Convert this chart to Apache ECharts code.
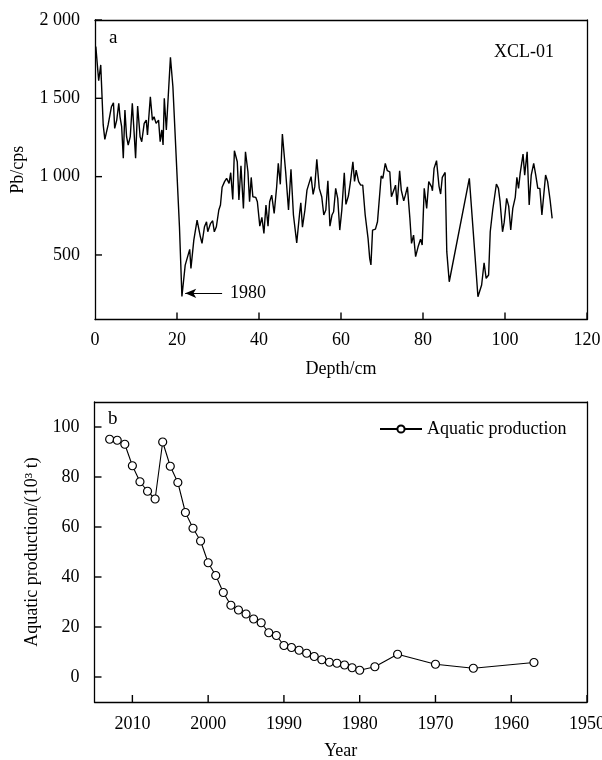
<!DOCTYPE html>
<html>
<head>
<meta charset="utf-8">
<script src="https://cdn.jsdelivr.net/npm/echarts@6/dist/echarts.min.js"></script>
<style>
  html, body { margin: 0; padding: 0; background: #fff; }
  #chart { width: 602px; height: 760px; }
</style>
</head>
<body>
<div id="chart"></div>
<script>
// panel a: Pb counts along the core
const depth = [0.2, 0.9, 1.4, 2.0, 2.4, 3.2, 4.0, 4.5, 4.8, 5.3,
  5.8, 6.1, 6.5, 6.9, 7.3, 7.7, 8.1, 8.6, 9.1, 9.5,
  9.9, 10.4, 11.0, 11.4, 12.0, 12.5, 12.8, 13.5, 14.0, 14.4,
  14.9, 15.5, 15.9, 16.3, 16.6, 16.9, 17.4, 17.8, 18.4, 19.0,
  20.6, 21.2, 22.0, 23.1, 23.4, 24.1, 24.9, 25.7, 26.1, 26.7,
  27.2, 27.5, 28.2, 28.7, 29.1, 29.6, 30.2, 30.6, 31.0, 31.6,
  32.1, 32.7, 33.1, 33.6, 34.0, 34.7, 35.1, 35.6, 36.2, 36.7,
  37.3, 37.7, 38.1, 38.5, 39.2, 39.6, 40.2, 40.7, 41.2, 41.7,
  42.2, 42.6, 43.1, 43.7, 44.3, 44.7, 45.2, 45.7, 46.5, 47.2,
  47.8, 48.4, 49.2, 49.9, 50.2, 50.6, 51.2, 51.7, 52.7, 53.2,
  53.6, 54.1, 54.7, 55.3, 55.8, 56.3, 56.8, 57.3, 57.8, 58.2,
  58.7, 59.2, 59.7, 60.2, 60.8, 61.2, 61.8, 62.3, 62.9, 63.3,
  63.7, 64.3, 64.8, 65.3, 65.9, 66.6, 67.0, 67.3, 67.7, 68.4,
  68.9, 69.3, 69.8, 70.2, 70.8, 71.3, 71.9, 72.3, 72.9, 73.3,
  73.7, 74.3, 74.7, 75.3, 75.7, 76.2, 76.8, 77.2, 77.7, 78.2,
  78.8, 79.4, 79.8, 80.3, 80.9, 81.4, 82.1, 82.3, 82.7, 83.3,
  83.9, 84.3, 84.7, 85.4, 85.8, 86.4, 91.3, 92.7, 93.4, 94.3,
  94.9, 95.4, 96.0, 96.4, 97.0, 97.9, 98.4, 98.8, 99.4, 99.8,
  100.4, 100.9, 101.4, 101.9, 102.5, 102.9, 103.3, 103.7, 104.4, 104.8,
  105.4, 105.9, 106.4, 107.0, 107.5, 108.0, 108.5, 109.0, 109.9, 110.4,
  111.0, 111.5]
const pb = [1830, 1612, 1713, 1330, 1238, 1330, 1446, 1472, 1308, 1361,
  1468, 1382, 1319, 1117, 1425, 1255, 1202, 1255, 1468, 1298,
  1117, 1451, 1255, 1223, 1340, 1361, 1266, 1510, 1361, 1382,
  1340, 1361, 1223, 1298, 1202, 1500, 1298, 1308, 1762, 1574,
  680, 235, 435, 536, 414, 595, 723, 616, 574, 680,
  712, 648, 702, 718, 648, 680, 787, 819, 932, 968,
  989, 957, 1025, 855, 1165, 1095, 851, 1070, 797, 1159,
  1031, 840, 995, 872, 868, 840, 684, 740, 638, 819,
  684, 840, 882, 765, 932, 1085, 951, 1272, 1031, 787,
  1047, 755, 577, 765, 833, 677, 787, 914, 1000, 887,
  936, 1110, 925, 872, 755, 787, 974, 684, 755, 776,
  925, 861, 659, 787, 1025, 823, 876, 966, 1095, 970,
  1042, 968, 946, 946, 755, 606, 478, 436, 659, 665,
  712, 702, 1004, 989, 1085, 1038, 1031, 872, 914, 946,
  819, 1038, 914, 846, 882, 935, 734, 574, 627, 489,
  552, 600, 563, 925, 797, 968, 935, 910, 1053, 1102,
  940, 889, 995, 1027, 521, 329, 989, 489, 233, 308,
  450, 350, 372, 648, 787, 953, 925, 840, 648, 708,
  861, 812, 659, 797, 868, 995, 925, 1021, 1144, 1010,
  1159, 819, 1010, 1085, 1010, 925, 925, 755, 1010, 968,
  851, 734]
const pbTicks = [500, 1000, 1500, 2000]
const depthTicks = [20, 40, 60, 80, 100, 120]

// panel b: aquatic production per year
const years = [2013, 2012, 2011, 2010, 2009, 2008, 2007, 2006, 2005, 2004,
  2003, 2002, 2001, 2000, 1999, 1998, 1997, 1996, 1995, 1994,
  1993, 1992, 1991, 1990, 1989, 1988, 1987, 1986, 1985, 1984,
  1983, 1982, 1981, 1980, 1978, 1975, 1970, 1965, 1957]
const production = [95.1, 94.7, 93.1, 84.5, 78.1, 74.3, 71.2, 94.0, 84.3, 77.8,
  65.8, 59.5, 54.4, 45.7, 40.6, 33.8, 28.7, 26.8, 25.2, 23.2,
  21.7, 17.7, 16.6, 12.6, 11.8, 10.7, 9.5, 8.2, 6.9, 5.9,
  5.5, 4.8, 3.7, 2.7, 4.1, 9.1, 5.1, 3.5, 5.8]
const yearTicks = [2010, 2000, 1990, 1980, 1970, 1960, 1950]
const prodTicks = [0, 20, 40, 60, 80, 100]

// axis ranges
const depthMin = 0, depthMax = 120, pbMin = 88, pbMax = 2000
const yearMin = 1950, yearMax = 2015, prodMin = -10, prodMax = 110

const font = 'Liberation Serif, Times New Roman, serif'
const black = '#000'

const chart = echarts.init(document.getElementById('chart'))

const label = { color: black, fontFamily: font, fontSize: 18 }
const nameStyle = { color: black, fontFamily: font, fontSize: 18 }
const edgeLine = { show: true, onZero: false, lineStyle: { color: black, width: 1.3 } }

// plain axis that only closes the box on the top / right side
const frame = (gridIndex, position, min, max, inverse) => ({
  gridIndex, position, type: 'value', min, max, inverse: !!inverse,
  axisLine: edgeLine, axisTick: { show: false }, axisLabel: { show: false }, splitLine: { show: false }
})

// short inward tick marks on the box edge, placed through the axes
// horizontal = true -> ticks on the left edge, pointing right
const tickSeries = (xi, yi, points, horizontal) => ({
  type: 'custom',
  xAxisIndex: xi,
  yAxisIndex: yi,
  silent: true,
  clip: false,
  z: 5,
  data: points,
  renderItem: (params, api) => {
    const p = api.coord([api.value(0), api.value(1)])
    const shape = horizontal
      ? { x1: p[0], y1: p[1], x2: p[0] + 7, y2: p[1] }
      : { x1: p[0], y1: p[1], x2: p[0], y2: p[1] - 7 }
    return { type: 'line', shape, style: { stroke: black, lineWidth: 1.4 } }
  }
})

chart.setOption({
  animation: false,
  backgroundColor: '#fff',
  title: [
    { text: 'a', left: 104, top: 24, textStyle: { fontFamily: font, fontSize: 19, fontWeight: 'normal', color: black } },
    { text: 'XCL-01', left: 489, top: 38, textStyle: { fontFamily: font, fontSize: 18, fontWeight: 'normal', color: black } },
    { text: 'b', left: 103, top: 405, textStyle: { fontFamily: font, fontSize: 19, fontWeight: 'normal', color: black } }
  ],
  legend: {
    data: ['Aquatic production'],
    left: 379,
    top: 420,
    padding: 0,
    itemWidth: 42,
    itemHeight: 9,
    itemGap: 5,
    textStyle: { fontFamily: font, fontSize: 18, color: black }
  },
  grid: [
    { left: 95, right: 15, top: 20, height: 299.5, outerBoundsMode: 'none' },
    { left: 94.5, right: 15, top: 402, height: 300, outerBoundsMode: 'none' }
  ],
  xAxis: [
    {
      gridIndex: 0,
      type: 'value',
      position: 'bottom',
      min: depthMin,
      max: depthMax,
      interval: 20,
      name: 'Depth/cm',
      nameLocation: 'middle',
      nameGap: 41,
      nameTextStyle: nameStyle,
      axisLine: edgeLine,
      axisTick: { show: false },
      axisLabel: Object.assign({ margin: 12 }, label),
      splitLine: { show: false }
    },
    {
      gridIndex: 1,
      type: 'value',
      position: 'bottom',
      inverse: true,
      min: yearMin,
      max: yearMax,
      name: 'Year',
      nameLocation: 'middle',
      nameGap: 40,
      nameTextStyle: nameStyle,
      axisLine: edgeLine,
      axisTick: { show: false },
      axisLabel: Object.assign({ margin: 13, customValues: yearTicks, formatter: v => String(v) }, label),
      splitLine: { show: false }
    },
    frame(0, 'top', depthMin, depthMax),
    frame(1, 'top', yearMin, yearMax, true)
  ],
  yAxis: [
    {
      gridIndex: 0,
      type: 'value',
      position: 'left',
      min: pbMin,
      max: pbMax,
      name: 'Pb/cps',
      nameLocation: 'middle',
      nameGap: 68,
      nameTextStyle: nameStyle,
      axisLine: edgeLine,
      axisTick: { show: false },
      axisLabel: Object.assign({
        margin: 15,
        customValues: pbTicks,
        // thousands separated by a space, as in the figure
        formatter: v => String(v).replace(/\B(?=(\d{3})+(?!\d))/g, ' ')
      }, label),
      splitLine: { show: false }
    },
    {
      gridIndex: 1,
      type: 'value',
      position: 'left',
      min: prodMin,
      max: prodMax,
      name: 'Aquatic production/(10³ t)',
      nameLocation: 'middle',
      nameGap: 50,
      nameTextStyle: nameStyle,
      axisLine: edgeLine,
      axisTick: { show: false },
      axisLabel: Object.assign({ margin: 15, customValues: prodTicks }, label),
      splitLine: { show: false }
    },
    frame(0, 'right', pbMin, pbMax),
    frame(1, 'right', prodMin, prodMax)
  ],
  series: [
    {
      name: 'Pb',
      type: 'line',
      xAxisIndex: 0,
      yAxisIndex: 0,
      data: depth.map((d, i) => [d, pb[i]]),
      showSymbol: false,
      lineStyle: { color: black, width: 1.4 },
      markLine: {
        silent: true,
        animation: false,
        symbol: ['none', 'arrow'],
        symbolSize: [7, 11],
        lineStyle: { color: black, width: 1.2, type: 'solid' },
        label: {
          show: true,
          position: 'start',
          distance: 8,
          formatter: '1980',
          fontFamily: font,
          fontSize: 18,
          color: black
        },
        data: [[{ coord: [31.0, 255] }, { coord: [22.0, 255] }]]
      }
    },
    {
      name: 'Aquatic production',
      type: 'line',
      xAxisIndex: 1,
      yAxisIndex: 1,
      data: years.map((y, i) => [y, production[i]]),
      symbol: 'circle',
      symbolSize: 8,
      itemStyle: { color: '#fff', borderColor: black, borderWidth: 1.2 },
      lineStyle: { color: black, width: 1.1 }
    },
    tickSeries(0, 0, depthTicks.map(v => [v, pbMin]), false),
    tickSeries(0, 0, pbTicks.map(v => [depthMin, v]), true),
    tickSeries(1, 1, yearTicks.map(v => [v, prodMin]), false),
    tickSeries(1, 1, prodTicks.map(v => [yearMax, v]), true)
  ]
})
</script>
</body>
</html>
